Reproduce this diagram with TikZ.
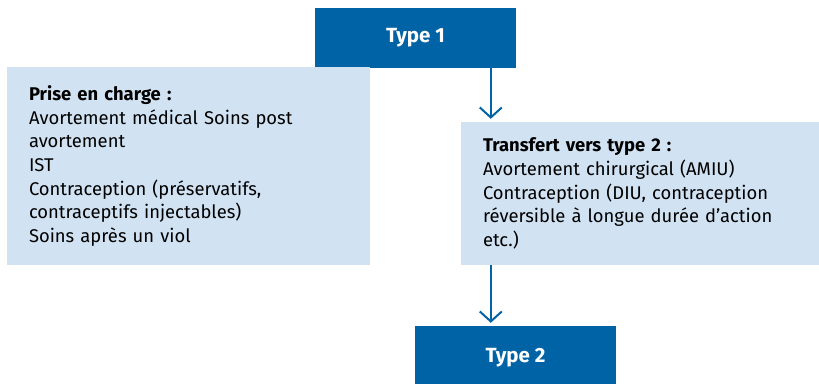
\documentclass[tikz,border=0pt]{standalone}
\usepackage{fontspec}
\setmainfont{Fira Sans}
\usepackage{tikz}
\usetikzlibrary{arrows.meta, positioning}

\definecolor{darkblue}{RGB}{0,99,166}
\definecolor{lightblue}{RGB}{209,227,243}

\begin{document}
\begin{tikzpicture}[x=1pt, y=-1pt,
        typebox/.style={fill=darkblue, draw=none, minimum width=201pt,
                    minimum height=60pt, text=white,
                    font=\fontsize{20.5}{22}\selectfont\bfseries},
        infobox/.style={fill=lightblue, draw=none, align=left, inner xsep=22pt,
                    font=\fontsize{18.4}{23.7}\selectfont},
        arr/.style={-{Straight Barb[length=10pt, width=22pt]}, line width=2pt,
                    darkblue, shorten >=3pt}
    ]
        \useasboundingbox (0,0) rectangle (819,383);

        % level 1
        \node[typebox] (type1) at (415.5, 37.5) {Type 1};
        \node[infobox, minimum width=363pt, minimum height=198pt, text width=319pt]
            (care) at (188.5, 166) {\textbf{Prise en charge :}\\
            Avortement médical Soins post\\
            avortement\\
            IST\\
            Contraception (préservatifs,\\
            contraceptifs injectables)\\
            Soins après un viol};

        % transfer
        \node[infobox, minimum width=358pt, minimum height=143pt, text width=314pt]
            (transfer) at (640, 193.5) {\textbf{Transfert vers type 2 :}\\
            Avortement chirurgical (AMIU)\\
            Contraception (DIU, contraception\\
            réversible à longue durée d’action\\
            etc.)};

        % level 2 (runs off the bottom edge)
        \node[typebox, minimum width=201pt, minimum height=64pt] (type2) at (515.5, 358) {Type 2};

        \draw[arr] ([xshift=30pt]transfer.north west |- type1.south) -- ([xshift=30pt]transfer.north west);
        \draw[arr] ([xshift=30pt]transfer.south west) -- ([xshift=30pt]transfer.south west |- type2.north);
    \end{tikzpicture}
\end{document}
